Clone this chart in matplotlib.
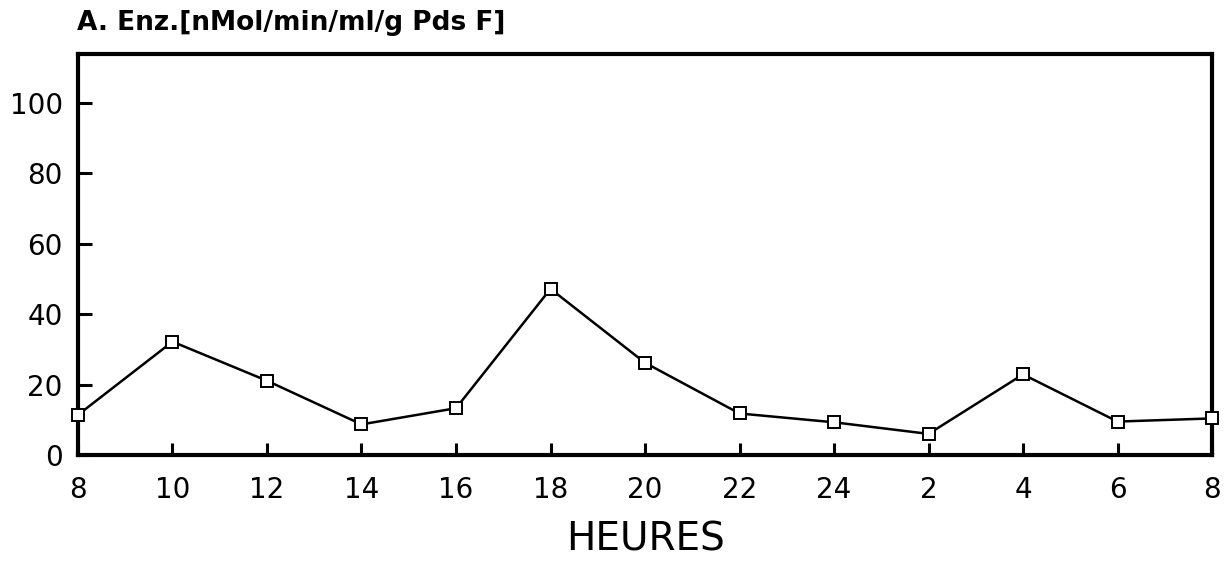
import matplotlib.pyplot as plt

# data
hours = ['8', '10', '12', '14', '16', '18', '20', '22', '24', '2', '4', '6', '8']
enz = [11.4, 32.2, 21.1, 8.7, 13.3, 47.2, 26.2, 11.8, 9.3, 6.0, 22.9, 9.5, 10.4]
yticks = [0, 20, 40, 60, 80, 100]

plt.rc('font', family='DejaVu Sans')

fig = plt.figure(figsize=(12.28, 5.63), dpi=100)
ax = fig.add_axes([0.0635, 0.1918, 0.9235, 0.7122])

x = list(range(len(hours)))
ax.plot(x, enz, color='black', lw=1.8, marker='s', markersize=8,
        markerfacecolor='white', markeredgecolor='black', markeredgewidth=1.4,
        clip_on=False, zorder=3)

ax.set_xlim(0, len(hours) - 1)
ax.set_ylim(0, 113.9)
ax.set_xticks(x)
ax.set_xticklabels(hours, fontsize=20)
ax.set_yticks(yticks)
ax.set_yticklabels([str(v) for v in yticks], fontsize=20)

for s in ax.spines.values():
  s.set_linewidth(3)
ax.tick_params(axis='x', direction='in', length=9, width=2.2, pad=15)
ax.tick_params(axis='y', direction='in', length=10, width=2.2, pad=11)

ax.set_xlabel('HEURES', fontsize=28, labelpad=12)
fig.text(0.063, 1 - 30 / 563, 'A. Enz.[nMol/min/ml/g Pds F]', fontsize=19,
         fontweight='bold', ha='left', va='baseline')

fig.savefig('out.png', dpi=100)
